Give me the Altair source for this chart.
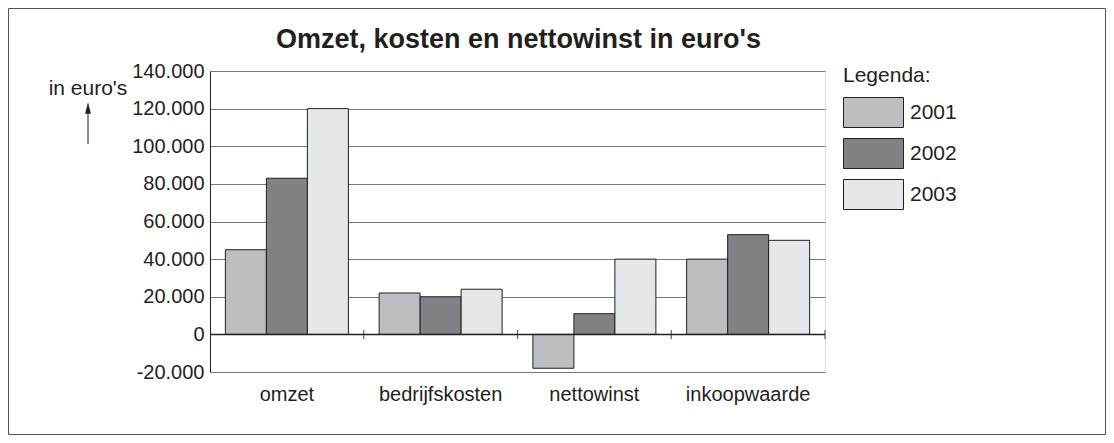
import altair as alt
import pandas as pd

categories = ["omzet", "bedrijfskosten", "nettowinst", "inkoopwaarde"]
years = ["2001", "2002", "2003"]
v2001 = [45000, 22000, -18000, 40000]
v2002 = [83000, 20000, 11000, 53000]
v2003 = [120000, 24000, 40000, 50000]
y_ticks = [-20000, 0, 20000, 40000, 60000, 80000, 100000, 120000, 140000]
colors = ["#bcbec0", "#808285", "#e6e7e8"]
title_text = "Omzet, kosten en nettowinst in euro's"

rows = []
for yr, vals in zip(years, [v2001, v2002, v2003]):
    for c, v in zip(categories, vals):
        rows.append({"categorie": c, "jaar": yr, "waarde": v})
df = pd.DataFrame(rows)

W, H = 615, 301
PAD_L, PAD_T = 202, 63
TOTAL_W, TOTAL_H = 1098, 427
INK = "#231f20"
FONT = "Liberation Sans"

xscale = alt.Scale(domain=categories, paddingInner=0, paddingOuter=0)
yscale = alt.Scale(domain=[-20000, 140000], nice=False, zero=False)

x_axis = alt.Axis(title=None, labelAngle=0, domain=False, ticks=False, grid=False,
                  labelFontSize=20, labelPadding=12, labelColor=INK, labelFont=FONT)
y_axis = alt.Axis(title=None, values=y_ticks, tickCount=len(y_ticks), ticks=False, domain=True,
                  domainColor=INK, domainWidth=1, grid=True, gridColor="#777777", gridWidth=1,
                  labelOverlap=False,
                  labelExpr="replace(replace(format(datum.value, ','), ',', '.'), '\u2212', '-')",
                  labelFontSize=20, labelPadding=6, labelColor=INK, labelFont=FONT)

frame = alt.Chart(pd.DataFrame({"a": [0]})).mark_rect(
    fillOpacity=0, stroke="#555555", strokeWidth=1
).encode(
    x=alt.value(-PAD_L + 0.5), x2=alt.value(TOTAL_W - PAD_L - 0.5),
    y=alt.value(-PAD_T + 0.5), y2=alt.value(TOTAL_H - PAD_T - 0.5),
)

bars = alt.Chart(df).mark_bar(stroke=INK, strokeWidth=1).encode(
    x=alt.X("categorie:N", scale=xscale, sort=categories, axis=x_axis),
    xOffset=alt.XOffset("jaar:N", scale=alt.Scale(domain=years, paddingInner=0, paddingOuter=0.375)),
    y=alt.Y("waarde:Q", scale=yscale, axis=y_axis),
    color=alt.Color("jaar:N", scale=alt.Scale(domain=years, range=colors),
                    legend=alt.Legend(orient="none", legendX=633, legendY=-6,
                                      title="Legenda:", titleFontSize=21, titleFontWeight="normal",
                                      titleColor=INK, titleFont=FONT, titlePadding=11,
                                      labelFontSize=21, labelColor=INK, labelFont=FONT, labelOffset=36,
                                      symbolType="M-1,-1H3V1H-1Z", symbolSize=900,
                                      symbolStrokeColor=INK, symbolStrokeWidth=1, symbolOpacity=1,
                                      rowPadding=6, padding=0)),
)

zero = alt.Chart(pd.DataFrame({"waarde": [0]})).mark_rule(color=INK, strokeWidth=1.5).encode(
    y=alt.Y("waarde:Q", scale=yscale, axis=y_axis)
)

bounds = alt.Chart(pd.DataFrame({"categorie": categories, "waarde": [0, 0, 0, 0]})).mark_tick(
    orient="vertical", size=9, thickness=1.2, color=INK
).encode(
    x=alt.X("categorie:N", scale=xscale, sort=categories, bandPosition=1, axis=x_axis),
    y=alt.Y("waarde:Q", scale=yscale, axis=y_axis),
)

title = alt.Chart(pd.DataFrame({"a": [0]})).mark_text(
    text=title_text, fontSize=27, fontWeight="bold", font=FONT, color=INK,
    align="center", baseline="alphabetic"
).encode(x=alt.value(W / 2 + 1), y=alt.value(-23))

unit_text = alt.Chart(pd.DataFrame({"a": [0]})).mark_text(
    text="in euro's", fontSize=21, font=FONT, color=INK, align="center", baseline="alphabetic"
).encode(x=alt.value(-122), y=alt.value(24))

arrow_shaft = alt.Chart(pd.DataFrame({"a": [0]})).mark_rule(color=INK, strokeWidth=1).encode(
    x=alt.value(-122), y=alt.value(38), y2=alt.value(73)
)
arrow_head = alt.Chart(pd.DataFrame({"a": [0]})).mark_point(
    shape="M-0.5,1L0,-1L0.5,1Z", filled=True, size=130, color=INK, opacity=1
).encode(x=alt.value(-122), y=alt.value(37))

chart = alt.layer(frame, bars, zero, bounds, title, unit_text, arrow_shaft, arrow_head).properties(
    width=W, height=H,
    autosize=alt.AutoSizeParams(type="none"),
    padding={"left": PAD_L, "top": PAD_T, "right": TOTAL_W - PAD_L - W, "bottom": TOTAL_H - PAD_T - H},
).configure_view(stroke=None).configure(background="white")

chart.save("out.html", embed_options={"renderer": "svg", "actions": False})
